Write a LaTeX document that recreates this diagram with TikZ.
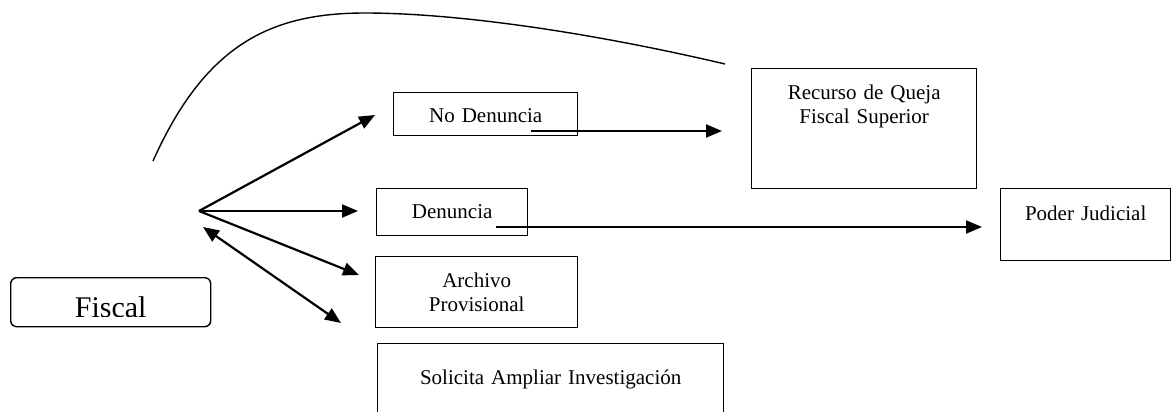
\documentclass[tikz,border=0pt]{standalone}
\usepackage{fontspec}
\setmainfont{Liberation Serif}
\usetikzlibrary{arrows.meta,calc}

\tikzset{
  stepbox/.style={draw, line width=1.4pt, anchor=north west, inner sep=0pt, align=center, font=\fontsize{21}{24}\selectfont},
  fiscalbox/.style={draw, line width=1.4pt, rounded corners=6pt, anchor=north west, inner sep=0pt},
  arrowline/.style={line width=2.2pt},
}

\begin{document}
\begin{tikzpicture}[x=1pt, y=-1pt, >={Triangle[length=16pt,width=13pt]}]
\useasboundingbox (0,0) rectangle (1171,412);
\clip (0,0) rectangle (1171,412);

\node[fiscalbox, minimum width=200pt, minimum height=49pt] (fiscal) at (10,277) {};
\begin{scope}
\clip (fiscal.north west) rectangle ($(fiscal.south east)+(0,-11)$);
\node[font=\fontsize{30}{34}\selectfont, anchor=base, inner sep=0pt] (fiscaltext) at ($(fiscal.north)+(0,40)$) {Fiscal};
\end{scope}

\node[stepbox, text width=184pt, text height=30pt, text depth=13pt] (noden) at (393,92) {No Denuncia};
\node[stepbox, text width=151pt, text height=30pt, text depth=17pt] (denuncia) at (376,188) {Denuncia};
\node[stepbox, text width=202pt, text height=31pt, text depth=40pt] (archivo) at (375,256) {Archivo\\Provisional};
\node[stepbox, text width=346pt, text height=41pt, text depth=45pt] (solicita) at (377,343) {Solicita Ampliar Investigación};
\node[stepbox, text width=225pt, text height=31pt, text depth=89pt] (recurso) at (751,68) {Recurso de Queja\\Fiscal Superior};
\node[stepbox, text width=170pt, text height=32pt, text depth=40pt] (poder) at (1000,188) {Poder Judicial};

\coordinate (hub) at (199,211);
\coordinate (tipnoden) at (375,115);
\coordinate (tipdenuncia) at (358,211);
\coordinate (tiparchivo) at (359,275);
\coordinate (dbltop) at (203,227);
\coordinate (dblbottom) at (341,323);
\coordinate (startrec) at (531,131);
\coordinate (tiprec) at (722,131);
\coordinate (startpoder) at (496,227);
\coordinate (tippoder) at (982,227);
\coordinate (curvestart) at (153,161);
\coordinate (curveend) at (725,64);

\draw[arrowline, ->] (hub) -- (tipnoden);
\draw[arrowline, ->] (hub) -- (tipdenuncia);
\draw[arrowline, ->] (hub) -- (tiparchivo);
\draw[arrowline, <->] (dbltop) -- (dblbottom);
\draw[arrowline, ->] (startrec) -- (tiprec);
\draw[arrowline, ->] (startpoder) -- (tippoder);
\draw[line width=1.4pt] (curvestart) .. controls (205,45) and (270,13) .. (365,13)
  .. controls (450,13) and (580,30) .. (curveend);

\end{tikzpicture}
\end{document}
